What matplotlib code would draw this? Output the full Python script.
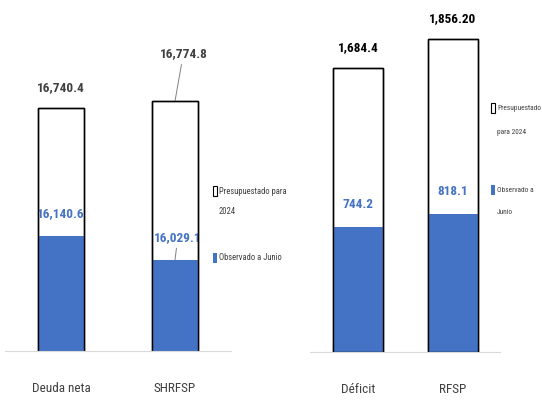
import matplotlib
matplotlib.use("Agg")
import matplotlib.pyplot as plt
from matplotlib.patches import Rectangle

plt.rcParams['font.family'] = ['Roboto Condensed', 'DejaVu Sans']

# left panel: debt (base of axis is not zero)
cats_deuda = ['Deuda neta', 'SHRFSP']
presup_deuda = [16740.4, 16774.8]
obs_deuda = [16140.6, 16029.1]
lbl_presup_deuda = ['16,740.4', '16,774.8']
lbl_obs_deuda = ['16,140.6', '16,029.1']

# right panel: deficit
cats_def = ['Déficit', 'RFSP']
presup_def = [1684.4, 1856.20]
obs_def = [744.2, 818.1]
lbl_presup_def = ['1,684.4', '1,856.20']
lbl_obs_def = ['744.2', '818.1']

BLUE = '#4472C4'
GREY = '#404040'
VAL_FS = 9.5
W, H = 542, 400

fig = plt.figure(figsize=(W / 100, H / 100), dpi=100)
ax1 = fig.add_axes([5 / W, 49 / H, 226 / W, 331 / H])
ax2 = fig.add_axes([310 / W, 48 / H, 190 / W, 332 / H])
ax1.patch.set_alpha(0)
ax2.patch.set_alpha(0)


def draw_panel(ax, cats, presup, obs, ymin, ymax, width, xlim):
    x = list(range(len(cats)))
    ax.bar(x, presup, width=width, color='white', edgecolor='black',
           linewidth=1.0, zorder=2)
    ax.bar(x, obs, width=width, color=BLUE, edgecolor='none', zorder=3)
    ax.bar(x, presup, width=width, color='none', edgecolor='black',
           linewidth=1.0, zorder=4)
    ax.set_ylim(ymin, ymax)
    ax.set_xlim(*xlim)
    for s in ['top', 'left', 'right']:
        ax.spines[s].set_visible(False)
    ax.spines['bottom'].set_color('#D9D9D9')
    ax.spines['bottom'].set_zorder(5)
    ax.set_yticks([])
    ax.set_xticks(x)
    ax.set_xticklabels(cats, fontsize=9.5, color=GREY)
    ax.tick_params(axis='x', length=0, pad=22)
    return x


x1 = draw_panel(ax1, cats_deuda, presup_deuda, obs_deuda,
                15600, 15600 + 331 * 4.70, 0.40, (-0.491, 1.491))
x2 = draw_panel(ax2, cats_def, presup_def, obs_def,
                0, 332 * 5.93, 0.52, (-0.505, 1.495))

# left labels
ax1.annotate(lbl_presup_deuda[0], (x1[0], presup_deuda[0]), xytext=(0, 15),
             textcoords='offset points', ha='center', va='center',
             fontsize=VAL_FS, fontweight='bold', color=GREY)
ax1.annotate(lbl_obs_deuda[0], (x1[0], obs_deuda[0]), xytext=(0, 16),
             textcoords='offset points', ha='center', va='center',
             fontsize=VAL_FS, fontweight='bold', color=BLUE)
# SHRFSP labels moved, with leader lines
ax1.annotate(lbl_presup_deuda[1], (x1[1], presup_deuda[1]), xytext=(6, 34),
             textcoords='offset points', ha='center', va='center',
             fontsize=VAL_FS, fontweight='bold', color=GREY,
             arrowprops=dict(arrowstyle='-', color='#808080', lw=0.7,
                             shrinkA=1, shrinkB=0))
ax1.annotate(lbl_obs_deuda[1], (x1[1], obs_deuda[1]), xytext=(2, 16),
             textcoords='offset points', ha='center', va='center',
             fontsize=VAL_FS, fontweight='bold', color=BLUE,
             arrowprops=dict(arrowstyle='-', color='#808080', lw=0.7,
                             shrinkA=1, shrinkB=0))

# right labels
for xi, p, o, lp, lo in zip(x2, presup_def, obs_def, lbl_presup_def, lbl_obs_def):
    ax2.annotate(lp, (xi, p), xytext=(0, 15), textcoords='offset points',
                 ha='center', va='center', fontsize=VAL_FS, fontweight='bold', color='black')
    ax2.annotate(lo, (xi, o), xytext=(0, 16), textcoords='offset points',
                 ha='center', va='center', fontsize=VAL_FS, fontweight='bold', color=BLUE)


# legends drawn by hand (Excel-style wrapped entries with wide line gaps)
def legend_item(px, py, lines, face, edge, gap, fs):
    fig.add_artist(Rectangle((px / W, 1 - (py + 5) / H), 4 / W, 10 / H,
                             transform=fig.transFigure, facecolor=face,
                             edgecolor=edge, linewidth=0.8))
    for i, line in enumerate(lines):
        fig.text((px + 6) / W, 1 - (py + i * gap) / H, line, fontsize=fs,
                 color=GREY, ha='left', va='center')


legend_item(213, 191, ['Presupuestado para', '2024'], 'white', 'black', 21, 6.2)
legend_item(213, 258, ['Observado a Junio'], BLUE, 'none', 21, 6.2)
legend_item(491, 108, ['Presupuestado', 'para 2024'], 'white', 'black', 24, 5.3)
legend_item(491, 190, ['Observado a', 'Junio'], BLUE, 'none', 23, 5.3)

fig.savefig('out.png', dpi=100)
